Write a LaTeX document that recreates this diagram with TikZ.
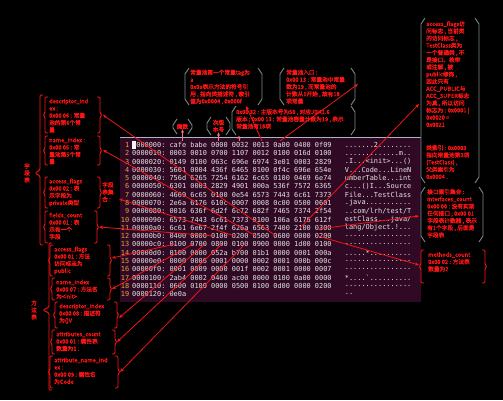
\documentclass[tikz,border=0pt]{standalone}
\usepackage{fontspec}
\setmonofont{DejaVu Sans Mono}
\newfontfamily\cjk[FakeBold=1.6]{Noto Sans CJK SC}
\usetikzlibrary{arrows.meta}
\definecolor{term}{HTML}{300A24}
\definecolor{hexfg}{HTML}{E4E4E4}
\definecolor{lnum}{HTML}{E0A83A}
\definecolor{ann}{HTML}{FF1414}
\definecolor{brk}{HTML}{7C8A8A}
\definecolor{pinkarr}{HTML}{FF7080}
\definecolor{termtop}{HTML}{A9B4C6}
\tikzset{
  ann/.style={text=ann, font=\cjk\fontsize{5.7}{7.2}\selectfont, align=left, inner sep=0pt, anchor=north west},
  annc/.style={text=ann, font=\cjk\fontsize{5.7}{7.0}\selectfont, align=center, inner sep=0pt},
  hexrow/.style={text=hexfg, font=\ttfamily\fontsize{6.9}{8}\selectfont, anchor=west, inner sep=0pt},
  lnumst/.style={text=lnum, font=\ttfamily\fontsize{6.9}{8}\selectfont, anchor=east, inner sep=0pt},
  conn/.style={draw=ann, line width=0.75pt, -{Stealth[length=4pt,width=3.2pt]}},
  upconn/.style={draw=pinkarr, line width=0.8pt, -{Stealth[length=3.5pt,width=3pt]}},
  brkred/.style={draw=ann, line width=0.9pt, rounded corners=1.2pt},
  brkgray/.style={draw=brk, line width=0.9pt},
}
% red curly brackets around a box
\newcommand\CurlyPair[4]{%
  \draw[brkred] (#1+3,#2) -- (#1,#2) -- (#1,{(#2+#4)/2-2}) -- (#1-2,{(#2+#4)/2}) -- (#1,{(#2+#4)/2+2}) -- (#1,#4) -- (#1+3,#4);
  \draw[brkred] (#3-3,#2) -- (#3,#2) -- (#3,{(#2+#4)/2-2}) -- (#3+2,{(#2+#4)/2}) -- (#3,{(#2+#4)/2+2}) -- (#3,#4) -- (#3-3,#4);
}
% chamfered gray brackets
\newcommand\ChamPair[5]{%
  \draw[brkgray,draw=#5] (#1+4,#2) -- (#1,#2+6) -- (#1,#4-6) -- (#1+4,#4);
  \draw[brkgray,draw=#5] (#3-4,#2) -- (#3,#2+6) -- (#3,#4-6) -- (#3-4,#4);
}
\newcommand\HexRow[4]{%
  \node[lnumst] (ln#1) at (129.5,{145+(#1-1)*8.28}) {#1};
  \node[hexrow] (hx#1) at (132,{145+(#1-1)*8.28}) {#2};
  \node[hexrow] (as#1) at (344.7,{145+(#1-1)*8.28}) {#3};
}
\begin{document}
\begin{tikzpicture}[x=1pt,y=-1pt]
\useasboundingbox (0,0) rectangle (503,400);
\fill[black] (0,0) rectangle (503,400);
% terminal
\fill[term] (120,137) rectangle (421,302);
\draw[termtop,line width=1pt] (120,137.5) -- (421,137.5);
\fill[white] (131.8,141.2) rectangle (135.9,149.2);
\HexRow{1}{0000000: cafe babe 0000 0032 0013 0a00 0400 0f09}{.......2........}{}
\HexRow{2}{0000010: 0003 0010 0700 1107 0012 0100 016d 0100}{.............m..}{}
\HexRow{3}{0000020: 0149 0100 063c 696e 6974 3e01 0003 2829}{.I...<init>...()}{}
\HexRow{4}{0000030: 5601 0004 436f 6465 0100 0f4c 696e 654e}{V...Code...LineN}{}
\HexRow{5}{0000040: 756d 6265 7254 6162 6c65 0100 0469 6e74}{umberTable...int}{}
\HexRow{6}{0000050: 6301 0003 2829 4901 000a 536f 7572 6365}{c...()I...Source}{}
\HexRow{7}{0000060: 4669 6c65 0100 0e54 6573 7443 6c61 7373}{File...TestClass}{}
\HexRow{8}{0000070: 2e6a 6176 610c 0007 0008 0c00 0500 0601}{.java...........}{}
\HexRow{9}{0000080: 0016 636f 6d2f 6c72 682f 7465 7374 2f54}{..com/lrh/test/T}{}
\HexRow{10}{0000090: 6573 7443 6c61 7373 0100 106a 6176 612f}{estClass...java/}{}
\HexRow{11}{00000a0: 6c61 6e67 2f4f 626a 6563 7400 2100 0300}{lang/Object.!...}{}
\HexRow{12}{00000b0: 0400 0000 0100 0200 0500 0600 0000 0200}{................}{}
\HexRow{13}{00000c0: 0100 0700 0800 0100 0900 0000 1d00 0100}{................}{}
\HexRow{14}{00000d0: 0100 0000 052a b700 01b1 0000 0001 000a}{.....*..........}{}
\HexRow{15}{00000e0: 0000 0006 0001 0000 0002 0001 000b 000c}{................}{}
\HexRow{16}{00000f0: 0001 0009 0000 001f 0002 0001 0000 0007}{................}{}
\HexRow{17}{0000100: 2ab4 0002 0460 ac00 0000 0100 0a00 0000}{*....\textasciigrave..........}{}
\HexRow{18}{0000110: 0600 0100 0000 0500 0100 0d00 0000 0200}{................}{}
\HexRow{19}{0000120: 0e0a}{..}{}

% ---------- left group 1 (fields) ----------
\CurlyPair{45}{97}{100}{133}
\node[ann] (f1) at (49,98.5) {descriptor\_ind\\ex :\\0x00 06 : 常量\\池的第6个常\\量};
\CurlyPair{45}{136}{100}{165}
\node[ann] (f2) at (49,137.5) {name\_index :\\0x00 05 : 常\\量池第5个常\\量};
\CurlyPair{45}{177}{100}{208}
\node[ann] (f3) at (49,178.5) {access\_flags\\0x00 02 : 表\\示字段为\\private类型};
\node[ann] (f3s) at (102,182) {字段\\表集\\合 :};
\CurlyPair{45}{211}{97}{243}
\node[ann] (f4) at (49,212.5) {fields\_count\\0x00 01 : 表\\示有一个\\字段};
\draw[brkred] (43,95) -- (40,95) -- (40,170) -- (35,173) -- (40,176) -- (40,245) -- (43,245);
\node[annc] (g1) at (27,173) {字\\段\\表};

% ---------- left group 2 (methods) ----------
\CurlyPair{50}{245}{110}{276}
\node[ann] (m1) at (54,246.5) {access\_flags\\0x00 01 : 方法\\访问标志为\\public};
\CurlyPair{52}{278}{110}{300}
\node[ann] (m2) at (56,279.5) {name\_index\\0x00 07 : 方法名\\为<init>};
\CurlyPair{55}{302}{117}{328}
\node[ann] (m3) at (59,303.5) {descriptor\_index\\0x00 08 : 描述符\\为()V};
\CurlyPair{52}{330}{115}{354}
\node[ann] (m4) at (56,331.5) {attributes\_count\\0x00 01 : 属性表\\数量为1 .};
\CurlyPair{50}{356}{118}{388}
\node[ann] (m5) at (54,357.5) {attribute\_name\_ind\\ex :\\0x00 09 : 属性名\\为Code};
\draw[brkred] (52,243) -- (49,243) -- (49,307) -- (43,310) -- (49,313) -- (49,390) -- (52,390);
\node[annc] (g2) at (34,310) {方\\法\\表};

% ---------- top labels ----------
\ChamPair{173}{119}{192}{134}{brk}
\node[annc] (t1) at (182.5,126.5) {魔数};
\ChamPair{207}{117}{230}{135}{brk}
\node[annc] (t2) at (218.5,126) {次版\\本号};
\ChamPair{185}{68}{262}{105}{brk}
\node[ann] (ta) at (190,69.5) {常量池第一个常量tag为\\a\\0x0a表示方法的符号引\\用 , 指向类描述符 , 索引\\值为0x0004 , 0x000f};
\ChamPair{280}{68}{355}{105}{brk}
\node[ann] (tb) at (286,69.5) {常量池入口 :\\0x00 13 : 常量池中常量\\数为19 , 而常量池的\\计数从1开始 , 故有18\\项常量};
\ChamPair{232}{106}{355}{135}{brk}
\node[ann] (tc) at (236,109) {0x00 32 : 主版本号为50 , 对应JDK1.6\\版本 ; 0x00 13 : 常量池容量计数为19 , 表示\\常量池有18项};

% ---------- right boxes ----------
\ChamPair{421}{18}{479}{183}{brk}
\node[ann] (r1) at (426,21) {access\_flags访\\问标志 , 当前类\\的访问标志 ,\\TestClass类为\\一个普通类 , 不\\是接口、枚举\\或注解 , 被\\public修饰 ,\\因此只有\\ACC\_PUBLIC与\\ACC\_SUPER标志\\为真 , 所以访问\\标志为 : 0x0001 |\\0x0020 =\\0x0021};
\node[ann] (r1b) at (426,145) {类索引 : 0x0003\\指向常量池第3项\\(TestClass) ,\\父类索引为\\0x0004 .};
\ChamPair{421}{187}{483}{242}{brk}
\node[ann] (r2) at (427,189) {接口索引集合 :\\interfaces\_count\\0x00 00 : 没有实现\\任何接口 ; 0x00 01\\字段表计数器 , 表示\\有1个字段 , 后面是\\字段表};
\CurlyPair{421}{250}{485}{283}
\node[ann] (r3) at (428,252) {methods\_count\\0x00 02 : 方法表\\数量为2};

% ---------- connectors ----------
\coordinate (pf1) at (276,236);
\coordinate (pf2) at (256,236);
\coordinate (pf3) at (235,236);
\coordinate (pf4) at (214,236);
\coordinate (pm1) at (175,244);
\coordinate (pm2) at (193,244);
\coordinate (pm3) at (205,244);
\coordinate (pm4) at (222,244);
\coordinate (pm5) at (245,244);
\coordinate (pr1) at (300,228);
\coordinate (pr2) at (318,229);
\coordinate (pr3) at (318,236);
\coordinate (ea1) at (103,115);
\coordinate (ea2) at (103,150);
\coordinate (ea3) at (119,199);
\coordinate (ea4) at (99,227);
\coordinate (eb1) at (112,258);
\coordinate (eb2) at (112,289);
\coordinate (eb3) at (119,318);
\coordinate (eb4) at (117,342);
\coordinate (eb5) at (120,372);
\coordinate (er1) at (419,104);
\coordinate (er2) at (419,216);
\coordinate (er3) at (419,265);
\draw[conn] (pf1) -- (ea1);
\draw[conn] (pf2) -- (ea2);
\draw[conn] (pf3) -- (ea3);
\draw[conn] (pf4) -- (ea4);
\draw[conn] (pm1) -- (eb1);
\draw[conn] (pm2) -- (eb2);
\draw[conn] (pm3) -- (eb3);
\draw[conn] (pm4) -- (eb4);
\draw[conn] (pm5) -- (eb5);
\draw[conn] (pr1) -- (er1);
\draw[conn] (pr2) -- (er2);
\draw[conn] (pr3) -- (er3);
\coordinate (pu1) at (182.5,141);
\coordinate (pu2) at (218.5,141);
\coordinate (pu3) at (239,141);
\draw[upconn] (pu1) -- (t1);
\draw[upconn] (pu2) -- (t2);
\draw[upconn] (pu3) -- (239,135.5);
\coordinate (pa) at (262,141);
\coordinate (pb) at (280,141);
\draw[conn] (pa) -- (246,106);
\draw[conn] (pb) -- (358,84);
\end{tikzpicture}
\end{document}
